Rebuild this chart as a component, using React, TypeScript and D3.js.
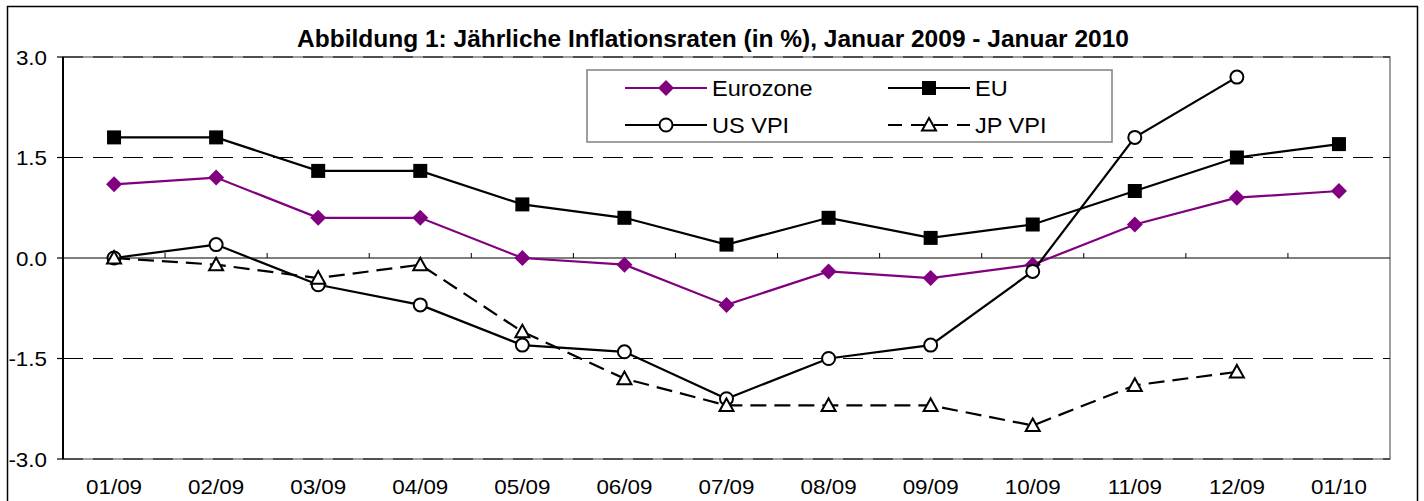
import React from "react";
import * as d3 from "d3";

const categories = ["01/09","02/09","03/09","04/09","05/09","06/09","07/09","08/09","09/09","10/09","11/09","12/09","01/10"];
const eurozone = [1.1, 1.2, 0.6, 0.6, 0.0, -0.1, -0.7, -0.2, -0.3, -0.1, 0.5, 0.9, 1.0];
const eu = [1.8, 1.8, 1.3, 1.3, 0.8, 0.6, 0.2, 0.6, 0.3, 0.5, 1.0, 1.5, 1.7];
const usVpi = [0.0, 0.2, -0.4, -0.7, -1.3, -1.4, -2.1, -1.5, -1.3, -0.2, 1.8, 2.7];
const jpVpi = [0.0, -0.1, -0.3, -0.1, -1.1, -1.8, -2.2, -2.2, -2.2, -2.5, -1.9, -1.7];
const yTicks = [-3.0, -1.5, 0.0, 1.5, 3.0];
const title = "Abbildung 1: Jährliche Inflationsraten (in %), Januar 2009 - Januar 2010";

const FONT = "'Liberation Sans', Arial, sans-serif";
const PURPLE = "#800080";

export default function App() {
  const W = 1424, H = 501;
  const left = 63, right = 1390, top = 57, bottom = 459;
  const x = d3.scaleBand<string>().domain(categories).range([left, right]).padding(0);
  const y = d3.scaleLinear().domain([-3, 3]).range([bottom, top]);
  const cx = (i: number) => (x(categories[i]) as number) + x.bandwidth() / 2;
  const line = d3.line<number>().x((_, i) => cx(i)).y(d => y(d));

  const diamond = (px: number, py: number, s = 8) =>
    `M${px},${py - s}L${px + s},${py}L${px},${py + s}L${px - s},${py}Z`;
  const tri = (px: number, py: number, s = 7) =>
    `M${px},${py - s}L${px + s},${py + s * 0.8}L${px - s},${py + s * 0.8}Z`;

  const Marker = ({ kind, px, py }: { kind: string; px: number; py: number }) => {
    if (kind === "diamond") return <path d={diamond(px, py)} fill={PURPLE} />;
    if (kind === "square") return <rect x={px - 7} y={py - 7} width={14} height={14} fill="#000" />;
    if (kind === "circle") return <circle cx={px} cy={py} r={6.5} fill="#fff" stroke="#000" strokeWidth={2} />;
    return <path d={tri(px, py)} fill="#fff" stroke="#000" strokeWidth={2} />;
  };

  const series = [
    { name: "Eurozone", data: eurozone, color: PURPLE, dash: undefined, kind: "diamond" },
    { name: "EU", data: eu, color: "#000", dash: undefined, kind: "square" },
    { name: "US VPI", data: usVpi, color: "#000", dash: undefined, kind: "circle" },
    { name: "JP VPI", data: jpVpi, color: "#000", dash: "16 8", kind: "triangle" },
  ];

  const legendPos = [
    { lx: 625, ly: 88, tx: 712 },
    { lx: 888, ly: 88, tx: 975 },
    { lx: 625, ly: 125, tx: 712 },
    { lx: 888, ly: 125, tx: 975 },
  ];

  return (
    <svg width={W} height={H} style={{ position: "absolute", left: 0, top: 0, background: "#fff" }}>
      <rect x={0} y={0} width={W} height={H} fill="#fff" />
      <rect x={7.5} y={6.5} width={1410} height={520} fill="none" stroke="#000" strokeWidth={1.5} />
      <text x={713} y={47} textAnchor="middle" fontFamily={FONT} fontWeight="bold" fontSize={24.5}>{title}</text>

      {/* plot border */}
      <rect x={left} y={top} width={right - left} height={bottom - top} fill="none" stroke="#808080" strokeWidth={1.5} />
      {/* gridlines */}
      {yTicks.filter(t => t !== 0).map(t => (
        <line key={t} x1={left} x2={right} y1={y(t)} y2={y(t)} stroke="#000" strokeWidth={1.2} strokeDasharray="20 10" />
      ))}
      {/* y axis */}
      <line x1={left} x2={left} y1={top} y2={bottom} stroke="#000" strokeWidth={2} />
      {yTicks.map(t => (
        <g key={"yt" + t}>
          <line x1={left - 6} x2={left} y1={y(t)} y2={y(t)} stroke="#000" strokeWidth={1.2} />
          <text transform={`translate(47,${y(t) + 7.5}) scale(1.12,1)`} textAnchor="end" fontFamily={FONT} fontSize={20}>{t.toFixed(1)}</text>
        </g>
      ))}
      {/* x axis at 0 */}
      <line x1={left} x2={right} y1={y(0)} y2={y(0)} stroke="#000" strokeWidth={1.2} />
      {categories.slice(1).map(c => (
        <line key={"xt" + c} x1={x(c) as number} x2={x(c) as number} y1={y(0) - 5} y2={y(0)} stroke="#000" strokeWidth={1} />
      ))}
      {categories.map((c, i) => (
        <text key={"xl" + c} transform={`translate(${cx(i)},494) scale(1.12,1)`} textAnchor="middle" fontFamily={FONT} fontSize={20}>{c}</text>
      ))}

      {/* series */}
      {series.map(s => (
        <g key={s.name}>
          <path d={line(s.data) as string} fill="none" stroke={s.color} strokeWidth={2.2} strokeDasharray={s.dash} />
          {s.data.map((v, i) => <Marker key={i} kind={s.kind} px={cx(i)} py={y(v)} />)}
        </g>
      ))}

      {/* legend */}
      <rect x={587} y={70} width={525} height={72} fill="#fff" stroke="#808080" strokeWidth={1.5} />
      {series.map((s, i) => {
        const p = legendPos[i];
        return (
          <g key={"lg" + s.name}>
            <line x1={p.lx} x2={p.lx + 82} y1={p.ly} y2={p.ly} stroke={s.color} strokeWidth={2.2} strokeDasharray={s.dash ? "14 9" : undefined} />
            <Marker kind={s.kind} px={p.lx + 41} py={p.ly} />
            <text transform={`translate(${p.tx},${p.ly + 8}) scale(1.07,1)`} fontFamily={FONT} fontSize={22}>{s.name}</text>
          </g>
        );
      })}
    </svg>
  );
}
